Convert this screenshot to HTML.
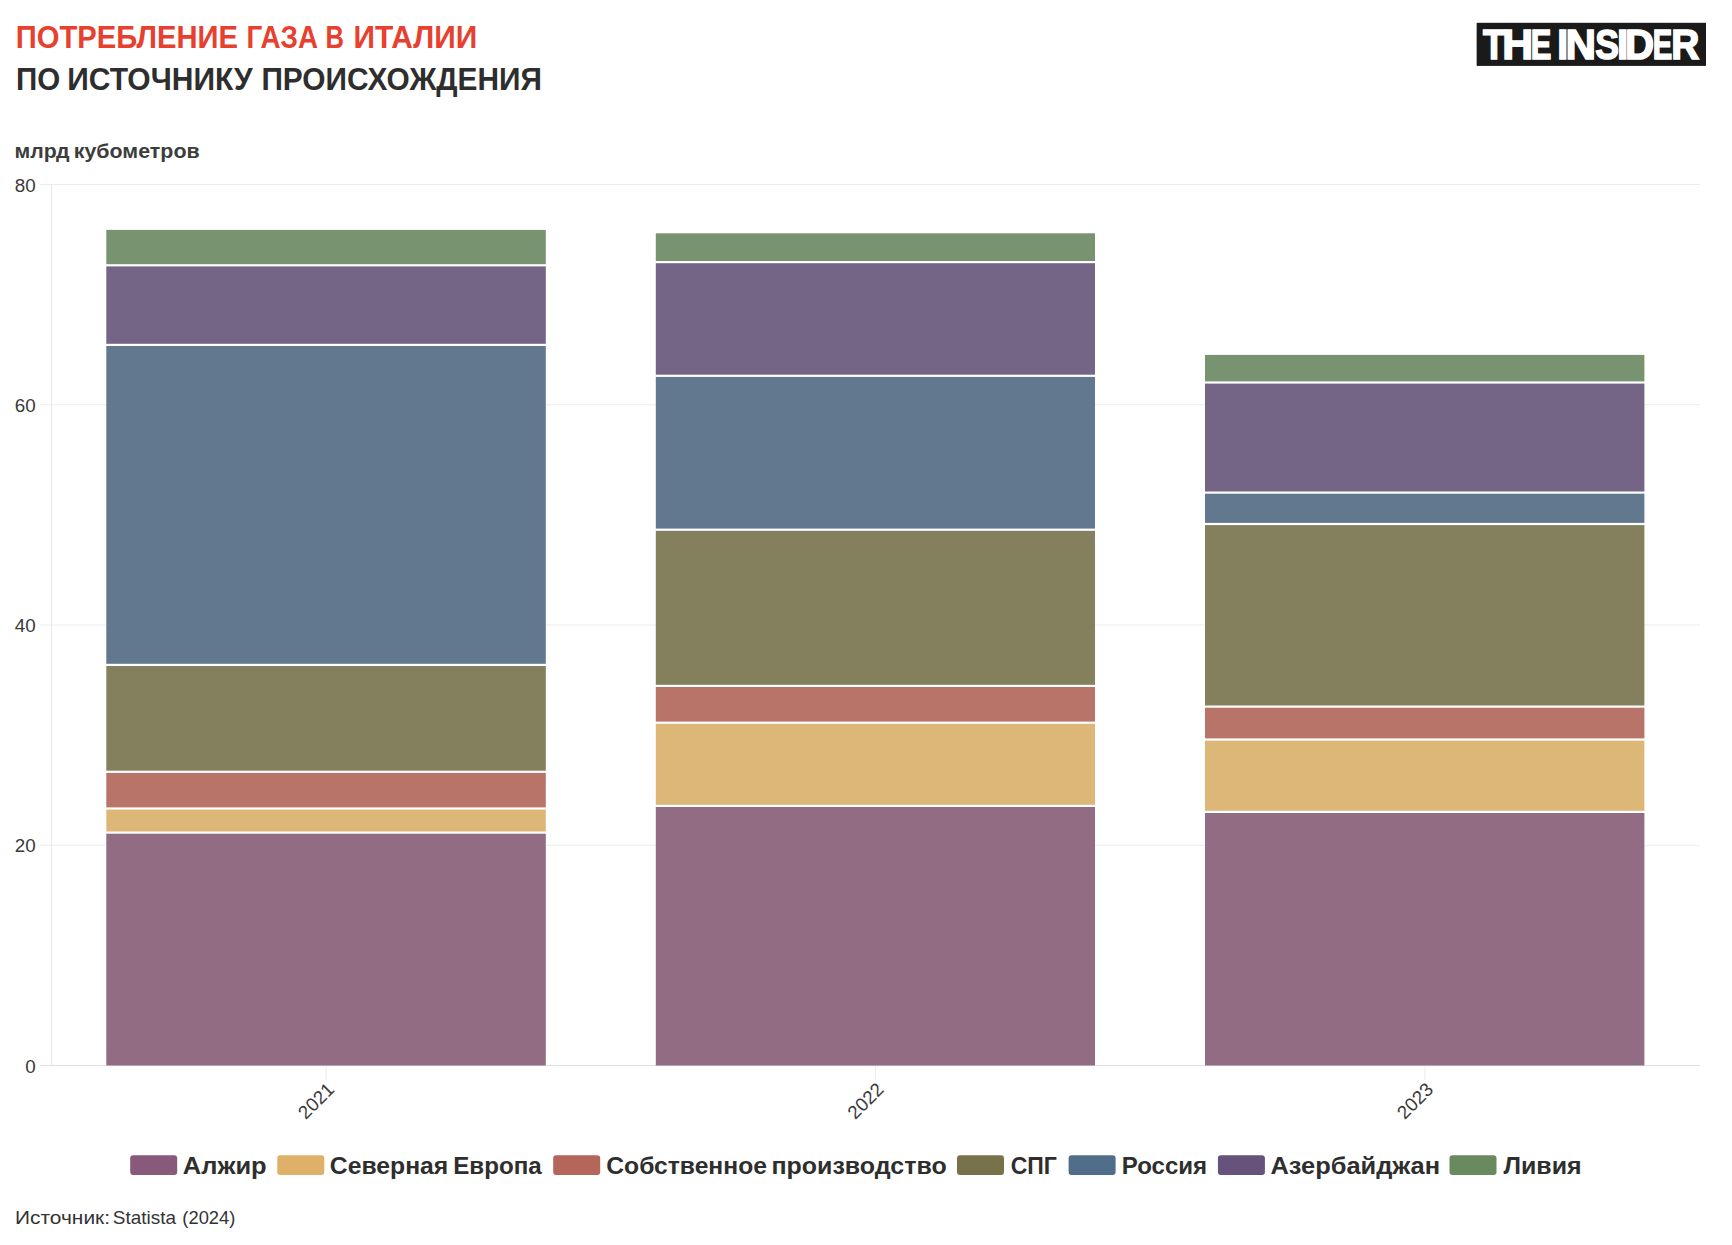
<!DOCTYPE html>
<html lang="ru"><head><meta charset="utf-8"><title>Потребление газа в Италии</title>
<style>html,body{margin:0;padding:0;background:#fff}body{width:1732px;height:1245px;overflow:hidden}svg{display:block}text{font-family:"Liberation Sans", sans-serif}</style></head><body>
<svg width="1732" height="1245" viewBox="0 0 1732 1245">
<rect width="1732" height="1245" fill="#ffffff"/>
<line x1="40" x2="1700" y1="1065.50" y2="1065.50" stroke="#e0e0e0" stroke-width="1"/>
<line x1="40" x2="1700" y1="845.25" y2="845.25" stroke="#ececec" stroke-width="1"/>
<line x1="40" x2="1700" y1="625.00" y2="625.00" stroke="#ececec" stroke-width="1"/>
<line x1="40" x2="1700" y1="404.75" y2="404.75" stroke="#ececec" stroke-width="1"/>
<line x1="40" x2="1700" y1="184.50" y2="184.50" stroke="#ececec" stroke-width="1"/>
<line x1="51.5" x2="51.5" y1="184.5" y2="1065.5" stroke="#e8e8e8" stroke-width="1"/>
<line x1="326.0" x2="326.0" y1="1065.5" y2="1080" stroke="#ebebeb" stroke-width="1"/>
<line x1="875.5" x2="875.5" y1="1065.5" y2="1080" stroke="#ebebeb" stroke-width="1"/>
<line x1="1425.0" x2="1425.0" y1="1065.5" y2="1080" stroke="#ebebeb" stroke-width="1"/>
<rect x="106.30" y="229.90" width="439.50" height="35.40" fill="#78936f"/>
<rect x="106.30" y="265.30" width="439.50" height="79.60" fill="#746485"/>
<rect x="106.30" y="344.90" width="439.50" height="320.00" fill="#62788f"/>
<rect x="106.30" y="664.90" width="439.50" height="106.90" fill="#847f5d"/>
<rect x="106.30" y="771.80" width="439.50" height="36.70" fill="#b87468"/>
<rect x="106.30" y="808.50" width="439.50" height="24.10" fill="#dcb777"/>
<rect x="106.30" y="832.60" width="439.50" height="232.90" fill="#926c83"/>
<rect x="105.80" y="264.20" width="440.50" height="2.2" fill="#ffffff"/>
<rect x="105.80" y="343.80" width="440.50" height="2.2" fill="#ffffff"/>
<rect x="105.80" y="663.80" width="440.50" height="2.2" fill="#ffffff"/>
<rect x="105.80" y="770.70" width="440.50" height="2.2" fill="#ffffff"/>
<rect x="105.80" y="807.40" width="440.50" height="2.2" fill="#ffffff"/>
<rect x="105.80" y="831.50" width="440.50" height="2.2" fill="#ffffff"/>
<rect x="655.80" y="233.30" width="439.20" height="28.80" fill="#78936f"/>
<rect x="655.80" y="262.10" width="439.20" height="113.70" fill="#746485"/>
<rect x="655.80" y="375.80" width="439.20" height="153.90" fill="#62788f"/>
<rect x="655.80" y="529.70" width="439.20" height="156.20" fill="#847f5d"/>
<rect x="655.80" y="685.90" width="439.20" height="36.80" fill="#b87468"/>
<rect x="655.80" y="722.70" width="439.20" height="83.20" fill="#dcb777"/>
<rect x="655.80" y="805.90" width="439.20" height="259.60" fill="#926c83"/>
<rect x="655.30" y="261.00" width="440.20" height="2.2" fill="#ffffff"/>
<rect x="655.30" y="374.70" width="440.20" height="2.2" fill="#ffffff"/>
<rect x="655.30" y="528.60" width="440.20" height="2.2" fill="#ffffff"/>
<rect x="655.30" y="684.80" width="440.20" height="2.2" fill="#ffffff"/>
<rect x="655.30" y="721.60" width="440.20" height="2.2" fill="#ffffff"/>
<rect x="655.30" y="804.80" width="440.20" height="2.2" fill="#ffffff"/>
<rect x="1205.00" y="354.90" width="439.40" height="27.60" fill="#78936f"/>
<rect x="1205.00" y="382.50" width="439.40" height="110.10" fill="#746485"/>
<rect x="1205.00" y="492.60" width="439.40" height="31.40" fill="#62788f"/>
<rect x="1205.00" y="524.00" width="439.40" height="182.60" fill="#847f5d"/>
<rect x="1205.00" y="706.60" width="439.40" height="32.90" fill="#b87468"/>
<rect x="1205.00" y="739.50" width="439.40" height="72.40" fill="#dcb777"/>
<rect x="1205.00" y="811.90" width="439.40" height="253.60" fill="#926c83"/>
<rect x="1204.50" y="381.40" width="440.40" height="2.2" fill="#ffffff"/>
<rect x="1204.50" y="491.50" width="440.40" height="2.2" fill="#ffffff"/>
<rect x="1204.50" y="522.90" width="440.40" height="2.2" fill="#ffffff"/>
<rect x="1204.50" y="705.50" width="440.40" height="2.2" fill="#ffffff"/>
<rect x="1204.50" y="738.40" width="440.40" height="2.2" fill="#ffffff"/>
<rect x="1204.50" y="810.80" width="440.40" height="2.2" fill="#ffffff"/>
<text x="35.6" y="1072.70" text-anchor="end" font-size="18.8" fill="#3a3a3a">0</text>
<text x="35.6" y="852.45" text-anchor="end" font-size="18.8" fill="#3a3a3a">20</text>
<text x="35.6" y="632.20" text-anchor="end" font-size="18.8" fill="#3a3a3a">40</text>
<text x="35.6" y="411.95" text-anchor="end" font-size="18.8" fill="#3a3a3a">60</text>
<text x="35.6" y="191.70" text-anchor="end" font-size="18.8" fill="#3a3a3a">80</text>
<text transform="translate(335.4,1090.7) rotate(-45)" text-anchor="end" font-size="18.8" fill="#3a3a3a">2021</text>
<text transform="translate(884.9,1090.7) rotate(-45)" text-anchor="end" font-size="18.8" fill="#3a3a3a">2022</text>
<text transform="translate(1434.4,1090.7) rotate(-45)" text-anchor="end" font-size="18.8" fill="#3a3a3a">2023</text>
<text y="47.5" font-size="30.5" font-weight="700" fill="#e7402f"><tspan x="15.85" textLength="222.18" lengthAdjust="spacingAndGlyphs">ПОТРЕБЛЕНИЕ</tspan> <tspan x="246.48" textLength="71.63" lengthAdjust="spacingAndGlyphs">ГАЗА</tspan> <tspan x="325.59" textLength="18.47" lengthAdjust="spacingAndGlyphs">В</tspan> <tspan x="353.44" textLength="123.84" lengthAdjust="spacingAndGlyphs">ИТАЛИИ</tspan></text>
<text y="89.9" font-size="30.5" font-weight="700" fill="#2e2e2e"><tspan x="15.92" textLength="44.22" lengthAdjust="spacingAndGlyphs">ПО</tspan> <tspan x="67.27" textLength="185.46" lengthAdjust="spacingAndGlyphs">ИСТОЧНИКУ</tspan> <tspan x="261.42" textLength="280.55" lengthAdjust="spacingAndGlyphs">ПРОИСХОЖДЕНИЯ</tspan></text>
<text y="158.3" font-size="21" font-weight="700" fill="#3d3d3d"><tspan x="14.43" textLength="55.16" lengthAdjust="spacingAndGlyphs">млрд</tspan> <tspan x="73.72" textLength="125.91" lengthAdjust="spacingAndGlyphs">кубометров</tspan></text>
<rect x="130.2" y="1155.2" width="47" height="19.8" rx="3" ry="3" fill="#88597b"/>
<text y="1173.8" font-size="24" font-weight="700" fill="#2e2e2e"><tspan x="182.87" textLength="83.78" lengthAdjust="spacingAndGlyphs">Алжир</tspan></text>
<rect x="277.3" y="1155.2" width="47" height="19.8" rx="3" ry="3" fill="#dfb068"/>
<text y="1173.8" font-size="24" font-weight="700" fill="#2e2e2e"><tspan x="329.89" textLength="118.33" lengthAdjust="spacingAndGlyphs">Северная</tspan> <tspan x="453.29" textLength="88.36" lengthAdjust="spacingAndGlyphs">Европа</tspan></text>
<rect x="553.2" y="1155.2" width="47" height="19.8" rx="3" ry="3" fill="#b5665a"/>
<text y="1173.8" font-size="24" font-weight="700" fill="#2e2e2e"><tspan x="606.29" textLength="160.65" lengthAdjust="spacingAndGlyphs">Собственное</tspan> <tspan x="771.47" textLength="175.20" lengthAdjust="spacingAndGlyphs">производство</tspan></text>
<rect x="957.0" y="1155.2" width="47" height="19.8" rx="3" ry="3" fill="#78724a"/>
<text y="1173.8" font-size="24" font-weight="700" fill="#2e2e2e"><tspan x="1010.66" textLength="46.19" lengthAdjust="spacingAndGlyphs">СПГ</tspan></text>
<rect x="1068.6" y="1155.2" width="47" height="19.8" rx="3" ry="3" fill="#506d8a"/>
<text y="1173.8" font-size="24" font-weight="700" fill="#2e2e2e"><tspan x="1121.81" textLength="85.35" lengthAdjust="spacingAndGlyphs">Россия</tspan></text>
<rect x="1217.9" y="1155.2" width="47" height="19.8" rx="3" ry="3" fill="#67527b"/>
<text y="1173.8" font-size="24" font-weight="700" fill="#2e2e2e"><tspan x="1270.47" textLength="169.61" lengthAdjust="spacingAndGlyphs">Азербайджан</tspan></text>
<rect x="1449.5" y="1155.2" width="47" height="19.8" rx="3" ry="3" fill="#698a5f"/>
<text y="1173.8" font-size="24" font-weight="700" fill="#2e2e2e"><tspan x="1503.50" textLength="78.04" lengthAdjust="spacingAndGlyphs">Ливия</tspan></text>
<text y="1223.8" font-size="19" fill="#333333"><tspan x="15.10" textLength="94.89" lengthAdjust="spacingAndGlyphs">Источник:</tspan> <tspan x="112.84" textLength="63.16" lengthAdjust="spacingAndGlyphs">Statista</tspan> <tspan x="182.36" textLength="52.97" lengthAdjust="spacingAndGlyphs">(2024)</tspan></text>
<rect x="1476.8" y="22.9" width="229.2" height="42.8" fill="#1a1a1a"/>
<rect x="1476.8" y="22.9" width="229.2" height="42.8" fill="#1a1a1a"/>
<text y="59.0" font-size="41.9" font-weight="700" fill="#ffffff" stroke="#ffffff" stroke-width="1.6" stroke-linejoin="miter"><tspan x="1482.90" textLength="21.99" lengthAdjust="spacingAndGlyphs">T</tspan><tspan x="1502.23" textLength="30.96" lengthAdjust="spacingAndGlyphs">H</tspan><tspan x="1530.64" textLength="20.57" lengthAdjust="spacingAndGlyphs">E</tspan> <tspan x="1557.35" textLength="10.99" lengthAdjust="spacingAndGlyphs">I</tspan><tspan x="1565.58" textLength="30.46" lengthAdjust="spacingAndGlyphs">N</tspan><tspan x="1595.18" textLength="23.71" lengthAdjust="spacingAndGlyphs">S</tspan><tspan x="1617.06" textLength="11.38" lengthAdjust="spacingAndGlyphs">I</tspan><tspan x="1625.01" textLength="29.09" lengthAdjust="spacingAndGlyphs">D</tspan><tspan x="1652.84" textLength="19.50" lengthAdjust="spacingAndGlyphs">E</tspan><tspan x="1671.30" textLength="28.10" lengthAdjust="spacingAndGlyphs">R</tspan></text>
</svg></body></html>
